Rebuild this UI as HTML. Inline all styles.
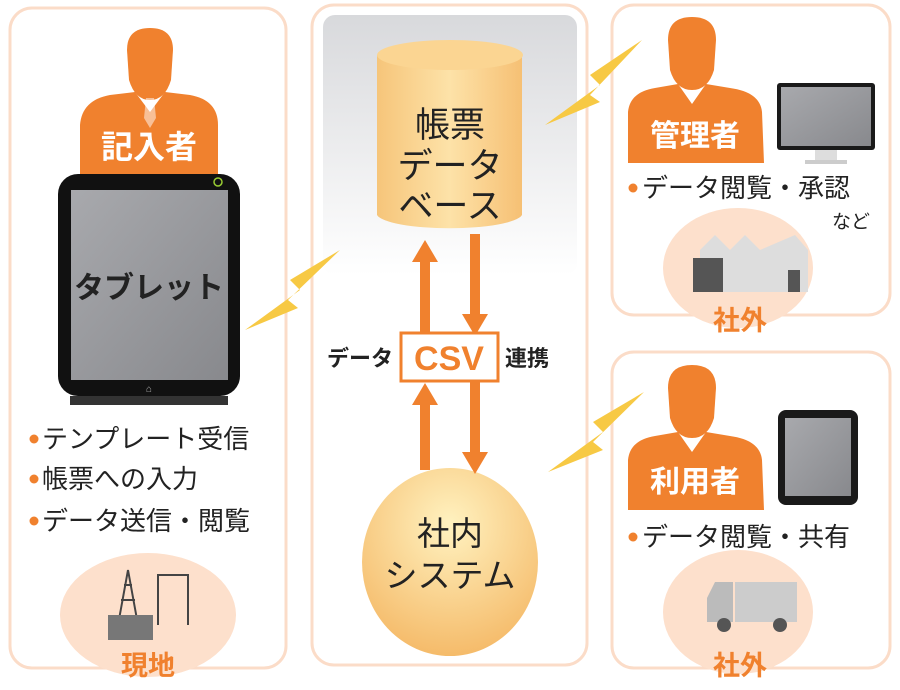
<!DOCTYPE html>
<html><head><meta charset="utf-8"><style>
body{margin:0;background:#fff;width:900px;height:690px;overflow:hidden}
svg{display:block}
text{font-family:"Liberation Sans","Noto Sans CJK JP",sans-serif}
</style></head><body>
<svg width="900" height="690" viewBox="0 0 900 690" xmlns="http://www.w3.org/2000/svg">
<defs>
<linearGradient id="gp" x1="0" y1="0" x2="0" y2="1"><stop offset="0" stop-color="#d8d9dc"/><stop offset="1" stop-color="#fff"/></linearGradient>
<linearGradient id="cyl" x1="0" y1="0" x2="1" y2="0"><stop offset="0" stop-color="#f6c57a"/><stop offset="0.5" stop-color="#fde2a8"/><stop offset="1" stop-color="#f6c074"/></linearGradient>
<radialGradient id="circ" cx="0.5" cy="0.3" r="0.7"><stop offset="0" stop-color="#fff2c0"/><stop offset="1" stop-color="#f5bb6a"/></radialGradient>
<linearGradient id="scr" x1="0" y1="0" x2="1" y2="1"><stop offset="0" stop-color="#a8a9ad"/><stop offset="1" stop-color="#88898d"/></linearGradient>
</defs>
<g fill="none" stroke="#fbdcc8" stroke-width="3">
<rect x="10" y="8" width="276" height="660" rx="22"/>
<rect x="312" y="5" width="275" height="660" rx="22"/>
<rect x="612" y="5" width="278" height="310" rx="22"/>
<rect x="612" y="352" width="278" height="316" rx="22"/>
</g>
<rect x="323" y="15" width="254" height="260" rx="12" fill="url(#gp)"/>
<g fill="#f7c944">
<polygon points="245,330 300,290 290,280 340,250 288,300 298,308"/>
<polygon points="545,125 600,85 590,75 642,40 590,95 600,102"/>
<polygon points="548,472 603,432 593,422 644,392 593,442 603,450"/>
</g>
<path d="M377,55 L377,215 A73,15 0 0 0 522,215 L522,55 Z" fill="url(#cyl)"/>
<ellipse cx="450" cy="55" rx="73" ry="15" fill="#fbd592"/>
<g font-size="35" fill="#222" text-anchor="middle">
<text x="450" y="137">帳票</text><text x="450" y="178">データ</text><text x="450" y="218">ベース</text>
</g>
<ellipse cx="450" cy="562" rx="88" ry="94" fill="url(#circ)"/>
<g font-size="33" fill="#222" text-anchor="middle"><text x="450" y="545">社内</text><text x="450" y="587">システム</text></g>
<g fill="#f0812e">
<rect x="420" y="262" width="10" height="72"/><polygon points="412,262 438,262 425,240"/>
<rect x="470" y="234" width="10" height="82"/><polygon points="462,314 488,314 475,336"/>
<rect x="420" y="405" width="10" height="65"/><polygon points="412,405 438,405 425,383"/>
<rect x="470" y="381" width="10" height="72"/><polygon points="462,452 488,452 475,474"/>
</g>
<rect x="401" y="333" width="97" height="48" fill="#fff" stroke="#f0812e" stroke-width="3"/>
<text x="449" y="370" font-size="34" font-weight="bold" fill="#f0812e" text-anchor="middle">CSV</text>
<text x="393" y="366" font-size="22" font-weight="bold" fill="#222" text-anchor="end">データ</text>
<text x="505" y="366" font-size="22" font-weight="bold" fill="#222">連携</text>
<g fill="#f0812e">
<path d="M127,50 Q127,28 150,28 Q173,28 173,50 L171,80 Q165,100 150,100 Q135,100 129,80 Z"/>
<path d="M80,175 L80,125 Q82,100 110,95 L135,92 L150,112 L165,92 L190,95 Q218,100 218,125 L218,175 Z"/>
</g>
<polygon points="146,98 154,98 156,118 150,128 144,118" fill="#fff" opacity="0.5"/>
<text x="149" y="158" font-size="32" font-weight="bold" fill="#fff" text-anchor="middle">記入者</text>
<rect x="58" y="174" width="182" height="222" rx="20" fill="#111"/>
<rect x="70" y="396" width="158" height="9" fill="#333"/>
<rect x="71" y="190" width="157" height="190" fill="url(#scr)"/>
<circle cx="218" cy="182" r="4" fill="none" stroke="#9c3" stroke-width="1.5"/>
<text x="149" y="298" font-size="30" font-weight="bold" fill="#222" text-anchor="middle">タブレット</text>
<text x="149" y="392" font-size="10" fill="#aaa" text-anchor="middle">⌂</text>
<g font-size="26" fill="#222">
<circle cx="34" cy="439" r="4.5" fill="#f0812e"/><text x="42" y="448">テンプレート受信</text>
<circle cx="34" cy="479" r="4.5" fill="#f0812e"/><text x="42" y="488">帳票への入力</text>
<circle cx="34" cy="521" r="4.5" fill="#f0812e"/><text x="42" y="530">データ送信・閲覧</text>
</g>
<ellipse cx="148" cy="615" rx="88" ry="62" fill="#fde0cc"/>
<g stroke="#444" stroke-width="2" fill="none"><path d="M118,625 L128,570 L138,625 M121,600 L135,600 M124,585 L132,585"/><path d="M158,625 L158,575 L188,575 L188,625"/></g>
<rect x="108" y="615" width="45" height="25" fill="#777"/>
<text x="148" y="675" font-size="27" font-weight="bold" fill="#f0812e" text-anchor="middle">現地</text>
<g fill="#f0812e">
<path d="M668,40 Q668,17 692,17 Q716,17 716,40 L714,70 Q708,90 692,90 Q676,90 670,70 Z"/>
<path d="M628,163 L628,112 Q630,92 655,88 L678,84 L692,104 L706,84 L730,88 Q760,92 762,112 L764,163 Z"/>
</g>
<text x="695" y="146" font-size="30" font-weight="bold" fill="#fff" text-anchor="middle">管理者</text>
<rect x="777" y="83" width="98" height="67" rx="3" fill="#1a1a1a"/>
<rect x="781" y="87" width="90" height="59" fill="url(#scr)"/>
<rect x="815" y="150" width="22" height="10" fill="#ddd"/><rect x="805" y="160" width="42" height="4" fill="#ccc"/>
<circle cx="633" cy="188" r="4.5" fill="#f0812e"/><text x="642" y="197" font-size="26" fill="#222">データ閲覧・承認</text>
<text x="832" y="228" font-size="19" fill="#222">など</text>
<ellipse cx="738" cy="268" rx="75" ry="60" fill="#fde0cc"/>
<g fill="#ddd"><polygon points="700,250 700,292 808,292 808,250 795,235 760,250 745,235 730,250 715,235"/></g>
<rect x="693" y="258" width="30" height="34" fill="#555"/><rect x="788" y="270" width="12" height="22" fill="#555"/>
<text x="740" y="330" font-size="27" font-weight="bold" fill="#f0812e" text-anchor="middle">社外</text>
<g fill="#f0812e">
<path d="M668,388 Q668,365 692,365 Q716,365 716,388 L714,418 Q708,438 692,438 Q676,438 670,418 Z"/>
<path d="M628,510 L628,460 Q630,440 655,436 L678,432 L692,452 L706,432 L730,436 Q760,440 762,460 L764,510 Z"/>
</g>
<text x="695" y="492" font-size="30" font-weight="bold" fill="#fff" text-anchor="middle">利用者</text>
<rect x="778" y="410" width="80" height="95" rx="8" fill="#1a1a1a"/>
<rect x="785" y="418" width="66" height="78" fill="url(#scr)"/>
<circle cx="633" cy="537" r="4.5" fill="#f0812e"/><text x="642" y="546" font-size="26" fill="#222">データ閲覧・共有</text>
<ellipse cx="738" cy="612" rx="75" ry="62" fill="#fde0cc"/>
<rect x="735" y="582" width="62" height="40" fill="#ccc"/>
<path d="M707,622 L707,598 L715,582 L733,582 L733,622 Z" fill="#bbb"/>
<circle cx="724" cy="625" r="7" fill="#555"/><circle cx="780" cy="625" r="7" fill="#555"/>
<text x="740" y="675" font-size="27" font-weight="bold" fill="#f0812e" text-anchor="middle">社外</text>
</svg>
</body></html>
